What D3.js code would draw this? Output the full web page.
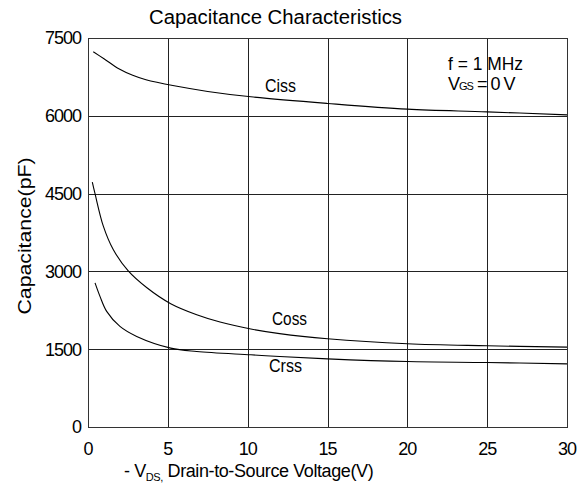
<!DOCTYPE html>
<html>
<head>
<meta charset="utf-8">
<script src="https://cdn.jsdelivr.net/npm/d3@7"></script>
<style>
  body { margin: 0; background: #fff; }
  svg text { font-family: "Liberation Sans", Arial, sans-serif; fill: #000; }
</style>
</head>
<body>
<div id="chart"></div>
<script>
// valores
const xTicks = [0, 5, 10, 15, 20, 25, 30];
const yTicks = [0, 1500, 3000, 4500, 6000, 7500];

const cissV = [0.33, 1, 1.96, 2.8, 3.63, 5.4, 7.5, 10.2, 15, 20, 25, 30];
const cissC = [7236, 7100, 6901, 6780, 6694, 6578, 6470, 6366, 6238, 6128, 6076, 6018];

const cossV = [0.27, 0.44, 0.96, 1.58, 2.52, 3.67, 5.18, 6.81, 8.27, 10.2, 12, 15, 20, 25, 30];
const cossC = [4722, 4498, 3872, 3421, 3010, 2690, 2378, 2165, 2024, 1889, 1800, 1701, 1604, 1566, 1540];

const crssV = [0.44, 0.75, 1.17, 2.0, 3.05, 5.18, 6.81, 10.2, 12, 15, 20, 25, 30];
const crssC = [2778, 2519, 2229, 1939, 1746, 1521, 1456, 1392, 1359, 1314, 1262, 1243, 1218];

const series = [
  { nome: "Ciss", v: cissV, c: cissC },
  { nome: "Coss", v: cossV, c: cossC },
  { nome: "Crss", v: crssV, c: crssC }
];

const W = 582, H = 489;
const margin = { top: 38, right: 15, bottom: 62, left: 88 };
const width = W - margin.left - margin.right;
const height = H - margin.top - margin.bottom;

const svg = d3.select("#chart")
  .append("svg")
    .attr("width", W)
    .attr("height", H);

const g = svg.append("g")
  .attr("transform", `translate(${margin.left},${margin.top})`);

const x = d3.scaleLinear().domain([0, 30]).range([0, width]);
const y = d3.scaleLinear().domain([0, 7500]).range([height, 0]);

// grade
g.selectAll(".gx")
  .data(xTicks)
  .join("line")
    .attr("x1", d => Math.round(x(d)) + 0.5)
    .attr("x2", d => Math.round(x(d)) + 0.5)
    .attr("y1", 0)
    .attr("y2", height)
    .attr("stroke", "#222")
    .attr("stroke-width", 1);

g.selectAll(".gy")
  .data(yTicks)
  .join("line")
    .attr("x1", 0)
    .attr("x2", width)
    .attr("y1", d => Math.round(y(d)) + 0.5)
    .attr("y2", d => Math.round(y(d)) + 0.5)
    .attr("stroke", "#222")
    .attr("stroke-width", 1);

// moldura
g.append("rect")
  .attr("x", 0.5).attr("y", 0.5)
  .attr("width", width).attr("height", height)
  .attr("fill", "none")
  .attr("stroke", "#333");

// rótulos dos eixos
g.selectAll(".tx")
  .data(xTicks)
  .join("text")
    .attr("x", d => x(d))
    .attr("y", height + 28)
    .attr("text-anchor", "middle")
    .style("font-size", "18px")
    .style("letter-spacing", "-1px")
    .text(d => d);

g.selectAll(".ty")
  .data(yTicks)
  .join("text")
    .attr("x", -7)
    .attr("y", d => y(d))
    .attr("dy", "0.36em")
    .attr("text-anchor", "end")
    .style("font-size", "18px")
    .style("letter-spacing", "-1px")
    .text(d => d);

// curvas
const linha = d3.line()
  .x(p => x(p[0]))
  .y(p => y(p[1]))
  .curve(d3.curveCatmullRom.alpha(0.5));

g.selectAll(".curva")
  .data(series)
  .join("path")
    .attr("fill", "none")
    .attr("stroke", "#000")
    .attr("stroke-width", 1.1)
    .attr("d", s => linha(s.v.map((v, i) => [v, s.c[i]])));

// título
svg.append("text")
  .attr("x", 149)
  .attr("y", 24)
  .attr("textLength", 253)
  .attr("lengthAdjust", "spacingAndGlyphs")
  .style("font-size", "20px")
  .text("Capacitance Characteristics");

svg.append("text")
  .attr("transform", "translate(31,236) rotate(-90)")
  .attr("text-anchor", "middle")
  .attr("textLength", 157)
  .attr("lengthAdjust", "spacingAndGlyphs")
  .style("font-size", "19px")
  .text("Capacitance(pF)");

const xl = svg.append("text")
  .attr("x", 124)
  .attr("y", 477)
  .style("font-size", "18px")
  .style("letter-spacing", "-0.4px");
xl.append("tspan").text("- V");
xl.append("tspan").attr("dy", 4).style("font-size", "11px").text("DS,");
xl.append("tspan").attr("dy", -4).text(" Drain-to-Source Voltage(V)");

// rótulos das curvas
const rotulos = [
  { t: "Ciss", x: 265, y: 92, w: 31 },
  { t: "Coss", x: 272, y: 325, w: 35 },
  { t: "Crss", x: 269, y: 372, w: 33 }
];
svg.selectAll(".rot")
  .data(rotulos)
  .join("text")
    .attr("x", d => d.x)
    .attr("y", d => d.y)
    .attr("textLength", d => d.w)
    .attr("lengthAdjust", "spacingAndGlyphs")
    .style("font-size", "18px")
    .text(d => d.t);

// condições
svg.append("text")
  .attr("x", 448)
  .attr("y", 70)
  .attr("textLength", 75)
  .attr("lengthAdjust", "spacingAndGlyphs")
  .style("font-size", "18px")
  .text("f = 1 MHz");

const vgs = svg.append("text")
  .attr("x", 448)
  .attr("y", 90)
  .style("font-size", "18px")
  .style("letter-spacing", "-1px");
vgs.append("tspan").text("V");
vgs.append("tspan").style("font-size", "11px").text("GS");
vgs.append("tspan").text(" = 0 V");
</script>
</body>
</html>
